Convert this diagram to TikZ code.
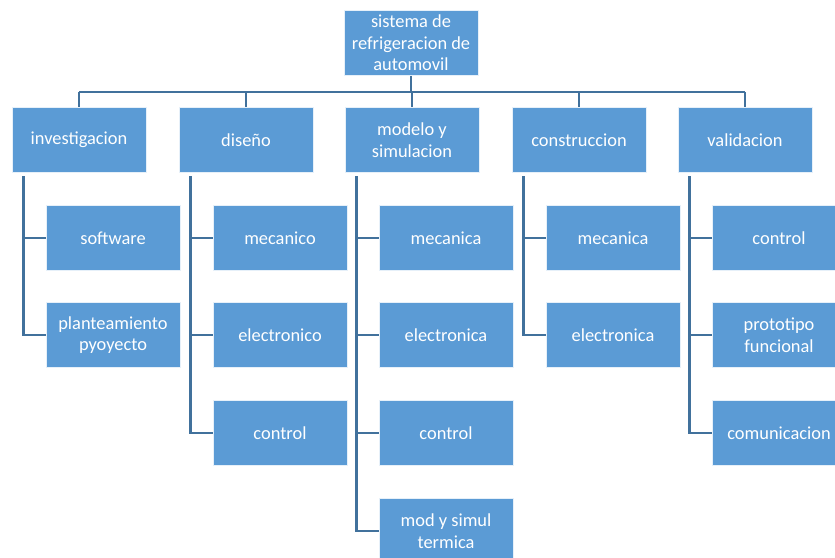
\documentclass[tikz,border=0pt]{standalone}
\usepackage{fontspec}
\setmainfont{Carlito}
\usetikzlibrary{calc}
\definecolor{azulcaja}{HTML}{5B9BD5}
\definecolor{azullinea}{HTML}{41719C}

\begin{document}
\begin{tikzpicture}[x=0.03cm, y=-0.03cm,
  caja/.style={draw=white!85!azulcaja, line width=0.6pt, fill=azulcaja,
    text=white, align=center, inner sep=2pt,
    minimum width=4.02cm, minimum height=1.95cm,
    font=\fontsize{15.7}{18.5}\selectfont},
  linea/.style={draw=azullinea, line width=2.3pt}]
  \useasboundingbox (0,0) rectangle (835,558);
  \clip (0,0) rectangle (835,558);
  % raiz
  \node[caja] (raiz) at (411,43) {sistema de\\refrigeracion de\\automovil};
  % primer nivel
  \foreach \p/\cx/\texto in {inv/79/investigacion, dis/246/diseño,
      mod/412/{modelo y\\simulacion}, con/579/construccion, val/745/validacion}
  {
     \node[caja] (\p) at (\cx,140) {\texto};
  }
  % segundo nivel, filas en y = 238, 335, 433, 531
  \node[caja] (inv1) at (113,238) {software};
  \node[caja] (inv2) at (113,335) {planteamiento\\pyoyecto};
  \node[caja] (dis1) at (280,238) {mecanico};
  \node[caja] (dis2) at (280,335) {electronico};
  \node[caja] (dis3) at (280,433) {control};
  \node[caja] (mod1) at (446,238) {mecanica};
  \node[caja] (mod2) at (446,335) {electronica};
  \node[caja] (mod3) at (446,433) {control};
  \node[caja] (mod4) at (446,531) {mod y simul\\termica};
  \node[caja] (con1) at (613,238) {mecanica};
  \node[caja] (con2) at (613,335) {electronica};
  \node[caja] (val1) at (779,238) {control};
  \node[caja] (val2) at (779,335) {prototipo\\funcional};
  \node[caja] (val3) at (779,433) {comunicacion};
  % conectores
  \coordinate (barra) at (0,92);
  \draw[linea] (raiz.south) -- (raiz.south |- barra);
  \draw[linea] (inv.north |- barra) -- (val.north |- barra);
  \foreach \p/\n in {inv/2, dis/3, mod/4, con/2, val/3}
  {
     \draw[linea] (\p.north |- barra) -- (\p.north);
     \coordinate (\p l) at ([xshift=0.36cm, yshift=-0.1cm]\p.south west);
     \draw[linea] (\p l) |- (\p\n.west);
     \foreach \i in {1,...,\n}
        \draw[linea] (\p\i.west) -- (\p\i.west -| \p l);
  }
\end{tikzpicture}
\end{document}
